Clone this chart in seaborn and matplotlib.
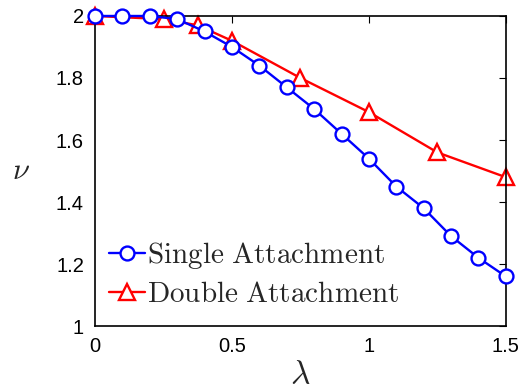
import matplotlib
matplotlib.use("Agg")
import matplotlib.pyplot as plt
import seaborn as sns
import pandas as pd

# Exponent nu versus lambda for the two attachment schemes
lam_single = [0.0, 0.1, 0.2, 0.3, 0.4, 0.5, 0.6, 0.7, 0.8, 0.9, 1.0, 1.1, 1.2, 1.3, 1.4, 1.5]
nu_single = [2.00, 2.00, 2.00, 1.99, 1.95, 1.90, 1.84, 1.77, 1.70, 1.62, 1.54, 1.45, 1.38, 1.29, 1.22, 1.16]

lam_double = [0.0, 0.25, 0.375, 0.5, 0.75, 1.0, 1.25, 1.5]
nu_double = [2.00, 1.99, 1.97, 1.92, 1.80, 1.69, 1.56, 1.48]

x_ticks = [0, 0.5, 1, 1.5]
x_ticklabels = ["0", "0.5", "1", "1.5"]
y_ticks = [1, 1.2, 1.4, 1.6, 1.8, 2]
y_ticklabels = ["1", "1.2", "1.4", "1.6", "1.8", "2"]

sns.set_theme(style="white")
plt.rcParams["font.family"] = ["Liberation Sans", "DejaVu Sans"]
plt.rcParams["mathtext.fontset"] = "cm"

df_single = pd.DataFrame({"lam": lam_single, "nu": nu_single})
df_double = pd.DataFrame({"lam": lam_double, "nu": nu_double})

fig = plt.figure(figsize=(5.28, 3.9), dpi=100)
ax = fig.add_axes([0.18, 0.164, 0.778, 0.795])

sns.lineplot(data=df_single, x="lam", y="nu", ax=ax, color="#0000ff",
             marker="o", markersize=10, markerfacecolor="white",
             markeredgecolor="#0000ff", markeredgewidth=1.7, linewidth=1.7,
             label=r"$\mathrm{Single\ Attachment}$", clip_on=False, zorder=3)
sns.lineplot(data=df_double, x="lam", y="nu", ax=ax, color="#ff0000",
             marker="^", markersize=11, markerfacecolor="white",
             markeredgecolor="#ff0000", markeredgewidth=1.7, linewidth=1.7,
             label=r"$\mathrm{Double\ Attachment}$", clip_on=False, zorder=2)

ax.set_xlim(0, 1.5)
ax.set_ylim(1, 2)
ax.set_xticks(x_ticks)
ax.set_xticklabels(x_ticklabels)
ax.set_yticks(y_ticks)
ax.set_yticklabels(y_ticklabels)
ax.tick_params(direction="in", length=5, width=0.8, top=True, right=True,
               labelsize=14.5, pad=8, colors="black")
for side in ax.spines.values():
    side.set_color("black")
    side.set_linewidth(1.2)

ax.set_xlabel(r"$\lambda$", fontsize=24, labelpad=3)
ax.set_ylabel(r"$\nu$", fontsize=22, rotation=0, labelpad=25, va="center")

leg = ax.legend(loc="lower left", frameon=False, fontsize=21,
                handlelength=1.25, handletextpad=0.05, labelspacing=0.3,
                borderaxespad=0.0, bbox_to_anchor=(0.005, 0.02))

fig.savefig("out.png", dpi=100)
